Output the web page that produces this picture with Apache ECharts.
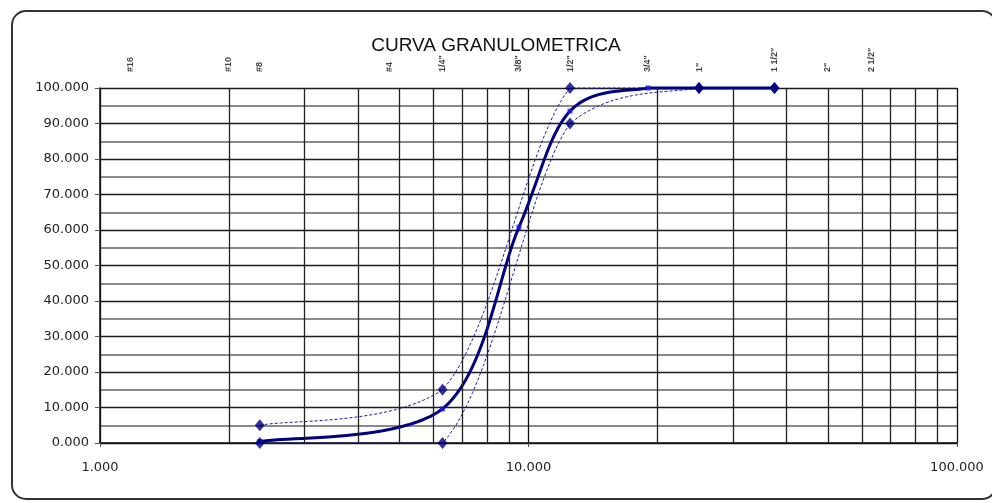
<!DOCTYPE html>
<html>
<head>
<meta charset="utf-8">
<style>
  html, body { margin: 0; padding: 0; background: #fff; }
  #chart { width: 992px; height: 503px; }
</style>
<script src="https://cdn.jsdelivr.net/npm/echarts@6/dist/echarts.min.js"></script>
</head>
<body>
<div id="chart"></div>
<script>
// Sieve openings (mm) and their names, shown along the top of the plot
const sieveNames = ['#16', '#10', '#8', '#4', '1/4"', '3/8"', '1/2"', '3/4"', '1"', '1 1/2"', '2"', '2 1/2"'];
const sieveSizes = [1.18, 2.0, 2.36, 4.75, 6.3, 9.5, 12.5, 19.0, 25.0, 37.5, 50.0, 63.0];

// Grading curve: % passing for each sieve size
const curveSizes = [2.36, 6.3, 9.5, 12.5, 19.0, 25.0, 37.5];
const curvePassing = [0.4, 9.6, 60.8, 93.5, 100, 100, 100];

// Specification band: upper and lower limits
const bandSizes = [2.36, 6.3, 12.5, 25.0, 37.5];
const upperLimit = [5, 15, 100, 100, 100];
const lowerLimit = [0, 0, 90, 100, 100];

// Minor vertical grid lines on the log axis
const minorGridX = [2, 3, 4, 5, 6, 7, 8, 9, 20, 30, 40, 50, 60, 70, 80, 90];

const FONT = 'DejaVu Sans, sans-serif';
const TITLE_FONT = 'Liberation Sans, Arial, sans-serif';
const NAVY = '#000080';

const pairs = (xs, ys) => xs.map((x, i) => [x, ys[i]]);

// Smoothed curve in pixel space: cubic Bezier segments whose control points
// follow the neighbouring points (1/6 rule), kept within each segment's
// vertical range so flat runs stay flat.
function smoothPoints(pts) {
  const out = [];
  const n = pts.length;
  for (let i = 0; i < n - 1; i++) {
    const p0 = pts[Math.max(0, i - 1)], p1 = pts[i], p2 = pts[i + 1], p3 = pts[Math.min(n - 1, i + 2)];
    const lo = Math.min(p1[1], p2[1]), hi = Math.max(p1[1], p2[1]);
    const clampY = y => Math.min(hi, Math.max(lo, y));
    const c1 = [p1[0] + (p2[0] - p0[0]) / 6, clampY(p1[1] + (p2[1] - p0[1]) / 6)];
    const c2 = [p2[0] - (p3[0] - p1[0]) / 6, clampY(p2[1] - (p3[1] - p1[1]) / 6)];
    const steps = 24;
    for (let s = (i === 0 ? 0 : 1); s <= steps; s++) {
      const t = s / steps, u = 1 - t;
      const a = u * u * u, b = 3 * u * u * t, c = 3 * u * t * t, d = t * t * t;
      out.push([
        a * p1[0] + b * c1[0] + c * c2[0] + d * p2[0],
        a * p1[1] + b * c1[1] + c * c2[1] + d * p2[1]
      ]);
    }
  }
  return out;
}

function curveSeries(name, xs, ys, style, z) {
  return {
    name: name,
    type: 'custom',
    silent: true,
    z: z,
    data: pairs(xs, ys),
    encode: { x: 0, y: 1 },
    renderItem: function (params, api) {
      if (params.dataIndex !== 0) return null;
      const pts = xs.map((x, i) => api.coord([x, ys[i]]));
      return {
        type: 'polyline',
        shape: { points: smoothPoints(pts) },
        style: Object.assign({ fill: null }, style)
      };
    }
  };
}

const chart = echarts.init(document.getElementById('chart'), null, { renderer: 'canvas' });

chart.setOption({
  backgroundColor: '#ffffff',
  animation: false,
  title: {
    text: 'CURVA GRANULOMETRICA',
    left: 'center',
    top: 31,
    textStyle: { fontFamily: TITLE_FONT, fontSize: 19, fontWeight: 'normal', color: '#111' }
  },
  graphic: [{
    type: 'rect',
    shape: { x: 12, y: 11, width: 984, height: 488, r: 14 },
    style: { fill: 'none', stroke: '#333', lineWidth: 2 },
    silent: true,
    z: -1
  }],
  grid: { left: 100, right: 35, top: 88, bottom: 60 },
  xAxis: {
    type: 'log',
    logBase: 10,
    min: 1,
    max: 100,
    axisLine: { show: true, onZero: false, lineStyle: { color: '#111', width: 1.5 } },
    axisTick: { show: true, length: 4, lineStyle: { color: '#555' } },
    axisLabel: {
      fontFamily: FONT, fontSize: 13, color: '#222', margin: 18,
      formatter: v => Number(v).toFixed(3)
    },
    splitLine: { show: true, lineStyle: { color: '#111', width: 1.3 } }
  },
  yAxis: {
    type: 'value',
    min: 0,
    max: 100,
    interval: 10,
    axisLine: { show: true, lineStyle: { color: '#111', width: 1.5 } },
    axisTick: { show: true, length: 5, lineStyle: { color: '#555' } },
    axisLabel: {
      fontFamily: FONT, fontSize: 13, color: '#222', margin: 11,
      formatter: v => v.toFixed(3)
    },
    splitLine: { show: true, lineStyle: { color: '#1a1a1a', width: 1.3 } },
    minorTick: { show: false, splitNumber: 2 },
    minorSplitLine: { show: true, lineStyle: { color: '#8a8a8a', width: 2 } }
  },
  series: [
    {
      // vertical log-grid lines and sieve name labels
      name: 'sieves',
      type: 'scatter',
      symbolSize: 0,
      silent: true,
      z: 1,
      data: sieveSizes.map((s, i) => ({ value: [s, 100], name: sieveNames[i] })),
      label: {
        show: true,
        formatter: '{b}',
        position: [0, -16],
        rotate: 90,
        align: 'left',
        verticalAlign: 'middle',
        fontFamily: TITLE_FONT,
        fontSize: 9,
        fontWeight: 'bold',
        color: '#111'
      },
      markLine: {
        silent: true,
        symbol: 'none',
        label: { show: false },
        lineStyle: { color: '#222', width: 1.3, type: 'solid' },
        data: minorGridX.map(v => ({ xAxis: v }))
      }
    },
    curveSeries('Límite superior', bandSizes, upperLimit,
      { stroke: '#1c1c9c', lineWidth: 1, lineDash: [3, 2] }, 3),
    curveSeries('Límite inferior', bandSizes, lowerLimit,
      { stroke: '#1c1c9c', lineWidth: 1, lineDash: [3, 2] }, 3),
    curveSeries('Curva', curveSizes, curvePassing,
      { stroke: NAVY, lineWidth: 3, lineJoin: 'round', lineCap: 'round' }, 4),
    {
      name: 'Curva puntos',
      type: 'scatter',
      symbol: 'rect',
      symbolSize: 5,
      silent: true,
      z: 5,
      itemStyle: { color: '#1a1ae6' },
      data: pairs(curveSizes, curvePassing)
    },
    {
      name: 'Límite superior puntos',
      type: 'scatter',
      symbol: 'diamond',
      symbolSize: [10, 12],
      silent: true,
      z: 6,
      itemStyle: { color: NAVY },
      data: pairs(bandSizes, upperLimit)
    },
    {
      name: 'Límite inferior puntos',
      type: 'scatter',
      symbol: 'diamond',
      symbolSize: [10, 12],
      silent: true,
      z: 6,
      itemStyle: { color: NAVY },
      data: pairs(bandSizes, lowerLimit)
    }
  ]
});
</script>
</body>
</html>
